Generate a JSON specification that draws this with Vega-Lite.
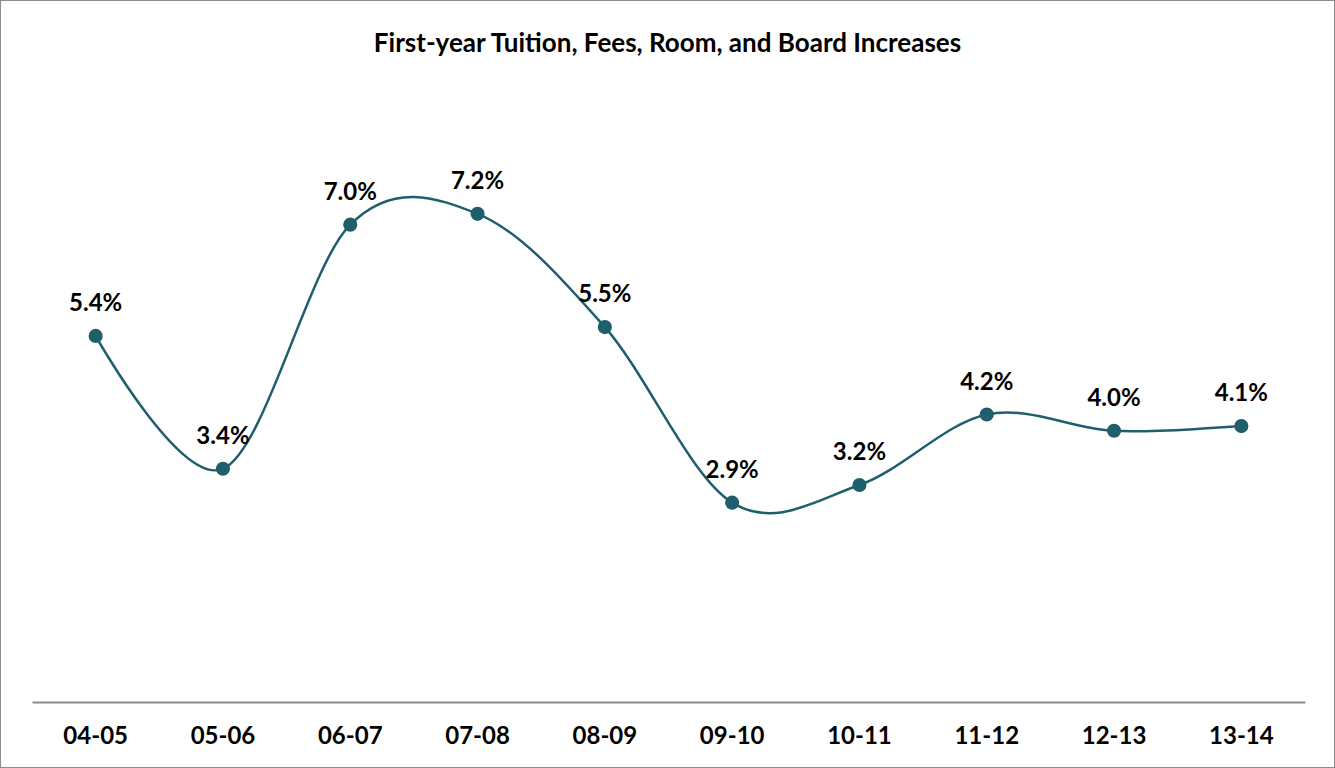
{
  "$schema": "https://vega.github.io/schema/vega-lite/v6.json",
  "width": 1335,
  "height": 768,
  "autosize": {"type": "fit", "contains": "padding"},
  "padding": 0,
  "background": "white",
  "config": {
    "view": {"stroke": "#8c8c8c", "strokeWidth": 2},
    "font": "Lato"
  },
  "title": {
    "text": "First-year Tuition, Fees, Room, and Board Increases",
    "fontSize": 26,
    "fontWeight": "bold",
    "font": "Lato",
    "color": "#000000",
    "anchor": "middle",
    "frame": "group",
    "offset": -57
  },
  "data": {
    "values": [
      {"year": "04-05", "increase": 0.054},
      {"year": "05-06", "increase": 0.0344},
      {"year": "06-07", "increase": 0.0704},
      {"year": "07-08", "increase": 0.072},
      {"year": "08-09", "increase": 0.0553},
      {"year": "09-10", "increase": 0.0294},
      {"year": "10-11", "increase": 0.032},
      {"year": "11-12", "increase": 0.0424},
      {"year": "12-13", "increase": 0.040},
      {"year": "13-14", "increase": 0.0407}
    ]
  },
  "encoding": {
    "x": {
      "field": "year",
      "type": "ordinal",
      "sort": null,
      "scale": {"type": "band", "range": [32, 1305], "paddingInner": 0, "paddingOuter": 0},
      "axis": {
        "title": null,
        "offset": -66,
        "domainColor": "#8c8c8c",
        "domainWidth": 2,
        "ticks": false,
        "labelAngle": 0,
        "labelFontSize": 24,
        "labelFontWeight": "bold",
        "labelColor": "#000000",
        "labelFont": "Lato",
        "labelPadding": 22,
        "grid": false
      }
    },
    "y": {
      "field": "increase",
      "type": "quantitative",
      "scale": {"domain": [0, 0.1], "range": [702, 24], "nice": false, "zero": true},
      "axis": null
    }
  },
  "layer": [
    {
      "mark": {"type": "line", "interpolate": "cardinal", "tension": 0, "color": "#1f5e6c", "strokeWidth": 2.5}
    },
    {
      "mark": {"type": "point", "filled": true, "color": "#1f5e6c", "size": 200, "opacity": 1}
    },
    {
      "mark": {"type": "text", "dy": -32, "fontSize": 24, "fontWeight": "bold", "color": "#000000", "font": "Lato", "baseline": "middle"},
      "encoding": {"text": {"field": "increase", "type": "quantitative", "format": ".1%"}}
    }
  ]
}
